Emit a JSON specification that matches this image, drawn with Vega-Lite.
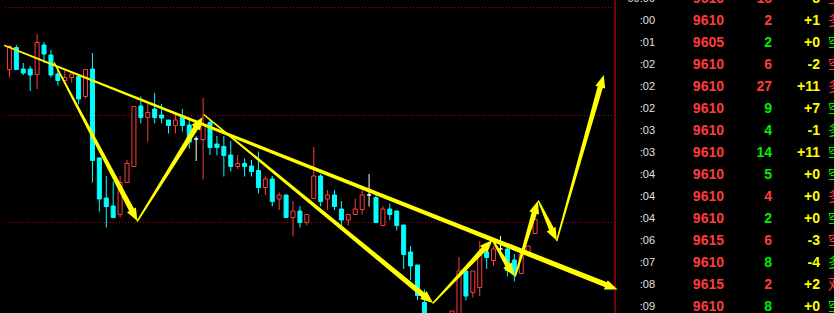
{
"$schema":"https://vega.github.io/schema/vega-lite/v6.json",
"width":834,"height":313,"padding":0,"autosize":{"type":"none"},
"background":"#000000",
"config":{"view":{"stroke":null}},
"datasets":{
"candles":[
{"i":0,"o":9630.6,"h":9635.5,"l":9629.0,"c":9635.2},
{"i":1,"o":9635.0,"h":9635.5,"l":9630.6,"c":9630.6},
{"i":2,"o":9630.7,"h":9631.9,"l":9629.5,"c":9629.9},
{"i":3,"o":9630.7,"h":9631.3,"l":9626.3,"c":9629.5},
{"i":4,"o":9629.6,"h":9637.7,"l":9626.7,"c":9636.0},
{"i":5,"o":9635.5,"h":9636.1,"l":9631.9,"c":9633.7},
{"i":6,"o":9633.5,"h":9634.5,"l":9629.0,"c":9629.5},
{"i":7,"o":9629.7,"h":9630.7,"l":9627.4,"c":9628.4},
{"i":8,"o":9628.4,"h":9630.5,"l":9628.0,"c":9629.0},
{"i":9,"o":9629.0,"h":9629.7,"l":9628.0,"c":9629.7},
{"i":10,"o":9629.2,"h":9629.5,"l":9623.6,"c":9624.7},
{"i":11,"o":9625.2,"h":9630.6,"l":9624.8,"c":9630.6},
{"i":12,"o":9630.7,"h":9633.9,"l":9608.0,"c":9612.4},
{"i":13,"o":9612.9,"h":9613.1,"l":9602.2,"c":9604.7},
{"i":14,"o":9604.9,"h":9609.3,"l":9599.0,"c":9603.2},
{"i":15,"o":9603.3,"h":9608.2,"l":9601.0,"c":9601.0},
{"i":16,"o":9601.6,"h":9609.3,"l":9601.0,"c":9608.0},
{"i":17,"o":9608.0,"h":9612.5,"l":9608.0,"c":9611.8},
{"i":18,"o":9611.2,"h":9623.2,"l":9611.2,"c":9623.2},
{"i":19,"o":9623.3,"h":9625.2,"l":9619.8,"c":9621.0},
{"i":20,"o":9621.0,"h":9623.7,"l":9616.2,"c":9622.0},
{"i":21,"o":9622.7,"h":9625.9,"l":9619.8,"c":9621.0},
{"i":22,"o":9621.5,"h":9623.7,"l":9619.8,"c":9620.9},
{"i":23,"o":9620.5,"h":9620.5,"l":9617.8,"c":9619.4},
{"i":24,"o":9619.4,"h":9621.9,"l":9617.8,"c":9620.5},
{"i":25,"o":9621.3,"h":9622.7,"l":9618.2,"c":9619.4},
{"i":26,"o":9619.5,"h":9621.0,"l":9614.8,"c":9616.1},
{"i":27,"o":9616.7,"h":9617.2,"l":9612.3,"c":9616.7},
{"i":28,"o":9616.6,"h":9624.9,"l":9608.6,"c":9619.5},
{"i":29,"o":9620.0,"h":9620.6,"l":9613.5,"c":9615.0},
{"i":30,"o":9615.7,"h":9617.3,"l":9613.4,"c":9615.0},
{"i":31,"o":9615.2,"h":9617.3,"l":9609.2,"c":9613.4},
{"i":32,"o":9613.5,"h":9616.3,"l":9610.2,"c":9611.2},
{"i":33,"o":9611.2,"h":9613.5,"l":9610.7,"c":9611.8},
{"i":34,"o":9611.8,"h":9612.8,"l":9609.2,"c":9611.2},
{"i":35,"o":9611.3,"h":9612.5,"l":9609.2,"c":9610.2},
{"i":36,"o":9610.4,"h":9614.2,"l":9605.8,"c":9607.0},
{"i":37,"o":9607.0,"h":9609.2,"l":9605.5,"c":9608.7},
{"i":38,"o":9608.7,"h":9609.3,"l":9603.2,"c":9604.2},
{"i":39,"o":9604.7,"h":9606.0,"l":9602.5,"c":9605.5},
{"i":40,"o":9605.5,"h":9605.5,"l":9601.0,"c":9601.0},
{"i":41,"o":9601.0,"h":9604.3,"l":9597.2,"c":9602.3},
{"i":42,"o":9602.3,"h":9603.3,"l":9599.0,"c":9600.0},
{"i":43,"o":9600.0,"h":9601.6,"l":9599.4,"c":9601.6},
{"i":44,"o":9604.8,"h":9615.1,"l":9604.8,"c":9609.3},
{"i":45,"o":9609.3,"h":9609.7,"l":9603.2,"c":9604.2},
{"i":46,"o":9604.7,"h":9606.5,"l":9602.5,"c":9605.5},
{"i":47,"o":9605.5,"h":9606.5,"l":9602.5,"c":9603.2},
{"i":48,"o":9602.7,"h":9604.3,"l":9599.3,"c":9600.5},
{"i":49,"o":9600.5,"h":9601.6,"l":9599.4,"c":9601.6},
{"i":50,"o":9601.6,"h":9604.8,"l":9601.6,"c":9602.7},
{"i":51,"o":9602.6,"h":9606.5,"l":9601.6,"c":9605.5},
{"i":52,"o":9605.5,"h":9609.7,"l":9603.2,"c":9605.5},
{"i":53,"o":9605.0,"h":9605.5,"l":9600.0,"c":9600.0},
{"i":54,"o":9599.4,"h":9603.3,"l":9599.4,"c":9602.7},
{"i":55,"o":9602.7,"h":9603.8,"l":9600.5,"c":9601.6},
{"i":56,"o":9602.3,"h":9602.3,"l":9598.4,"c":9599.4},
{"i":57,"o":9599.5,"h":9599.5,"l":9590.7,"c":9593.6},
{"i":58,"o":9594.1,"h":9595.3,"l":9588.5,"c":9591.3},
{"i":59,"o":9591.5,"h":9591.5,"l":9584.5,"c":9585.4},
{"i":60,"o":9584.0,"h":9586.6,"l":9578.0,"c":9580.0},
{"i":61,"o":9580.0,"h":9581.0,"l":9576.0,"c":9578.0},
{"i":62,"o":9575.0,"h":9580.0,"l":9574.0,"c":9578.0},
{"i":63,"o":9577.0,"h":9581.0,"l":9576.0,"c":9580.0},
{"i":64,"o":9580.0,"h":9582.3,"l":9579.0,"c":9582.3},
{"i":65,"o":9580.0,"h":9593.1,"l":9579.0,"c":9590.3},
{"i":66,"o":9590.3,"h":9590.3,"l":9584.4,"c":9585.3},
{"i":67,"o":9586.0,"h":9590.3,"l":9585.0,"c":9590.3},
{"i":68,"o":9587.0,"h":9596.3,"l":9585.3,"c":9594.1},
{"i":69,"o":9594.1,"h":9595.2,"l":9590.7,"c":9593.0},
{"i":70,"o":9592.4,"h":9595.3,"l":9591.3,"c":9594.7},
{"i":71,"o":9594.7,"h":9597.3,"l":9593.6,"c":9594.7},
{"i":72,"o":9594.7,"h":9595.3,"l":9589.2,"c":9590.4},
{"i":73,"o":9592.5,"h":9593.7,"l":9588.2,"c":9589.7},
{"i":74,"o":9589.8,"h":9593.7,"l":9589.8,"c":9593.7},
{"i":75,"o":9593.7,"h":9595.3,"l":9593.2,"c":9595.3},
{"i":76,"o":9597.8,"h":9601.7,"l":9597.8,"c":9600.6}
],
"arrows":[
{"seg":"A","t":0,"i":-0.7,"p":9635.4},{"seg":"A","t":1,"i":86.73,"p":9587.3},
{"seg":"B","t":0,"i":6.5,"p":9631.9},{"seg":"B","t":1,"i":17.9,"p":9601.9},
{"seg":"C","t":0,"i":18.5,"p":9600.3},{"seg":"C","t":1,"i":27.24,"p":9619.6},
{"seg":"D","t":0,"i":28.17,"p":9621.5},{"seg":"D","t":1,"i":60.26,"p":9585.0},
{"seg":"E","t":0,"i":61.26,"p":9583.9},{"seg":"E","t":1,"i":68.94,"p":9595.2},
{"seg":"F","t":0,"i":69.83,"p":9596.5},{"seg":"F","t":1,"i":72.33,"p":9590.8},
{"seg":"G","t":0,"i":73.14,"p":9589.3},{"seg":"G","t":1,"i":76.03,"p":9602.6},
{"seg":"H","t":0,"i":76.5,"p":9604.3},{"seg":"H","t":1,"i":78.6,"p":9598.0},
{"seg":"I","t":0,"i":79.14,"p":9596.4},{"seg":"I","t":1,"i":85.57,"p":9627.8}
],
"heads":[
{"seg":"A","i":87.93,"p":9586.6},
{"seg":"B","i":18.5,"p":9600.3},
{"seg":"C","i":27.93,"p":9621.1},
{"seg":"D","i":61.26,"p":9583.9},
{"seg":"E","i":69.83,"p":9596.5},
{"seg":"F","i":73.0,"p":9589.3},
{"seg":"G","i":76.4,"p":9604.3},
{"seg":"H","i":79.14,"p":9596.4},
{"seg":"I","i":85.93,"p":9629.5}
],
"grid":[{"p":9643},{"p":9621.4},{"p":9600}],
"ticks":[
{"r":0,"t":"09:00","pr":"9610","v":"16","d":"-5","k":"空","s":"B"},
{"r":1,"t":":00","pr":"9610","v":"2","d":"+1","k":"多","s":"B"},
{"r":2,"t":":01","pr":"9605","v":"2","d":"+0","k":"空","s":"S"},
{"r":3,"t":":02","pr":"9610","v":"6","d":"-2","k":"空","s":"B"},
{"r":4,"t":":02","pr":"9610","v":"27","d":"+11","k":"多","s":"B"},
{"r":5,"t":":02","pr":"9610","v":"9","d":"+7","k":"空","s":"S"},
{"r":6,"t":":03","pr":"9610","v":"4","d":"-1","k":"多","s":"S"},
{"r":7,"t":":03","pr":"9610","v":"14","d":"+11","k":"空","s":"S"},
{"r":8,"t":":04","pr":"9610","v":"5","d":"+0","k":"空","s":"S"},
{"r":9,"t":":04","pr":"9610","v":"4","d":"+0","k":"多","s":"B"},
{"r":10,"t":":04","pr":"9610","v":"2","d":"+0","k":"空","s":"S"},
{"r":11,"t":":06","pr":"9615","v":"6","d":"-3","k":"空","s":"B"},
{"r":12,"t":":07","pr":"9610","v":"8","d":"-4","k":"多","s":"S"},
{"r":13,"t":":08","pr":"9615","v":"2","d":"+2","k":"双","s":"B"},
{"r":14,"t":":09","pr":"9610","v":"8","d":"+0","k":"空","s":"S"}
]
},
"resolve":{"scale":{"x":"independent","y":"independent","color":"independent","size":"independent"}},
"layer":[
{"layer":[
{"data":{"name":"grid"},"mark":{"type":"rule","color":"#b00000","strokeDash":[1,2],"strokeWidth":1},
 "encoding":{"y":{"field":"p","type":"quantitative","scale":{"domain":[9581.9,9644.5],"nice":false,"zero":false},"axis":null},
 "x":{"datum":-0.643,"type":"quantitative","scale":{"domain":[-0.642857,118.5],"nice":false,"zero":false},"axis":null},"x2":{"datum":87.57}}},
{"data":{"values":[{}]},"mark":{"type":"rule","color":"#e00000","strokeWidth":1},
 "encoding":{"x":{"datum":87.57,"type":"quantitative","scale":{"domain":[-0.642857,118.5],"nice":false,"zero":false},"axis":null}}},
{"data":{"name":"candles"},"mark":{"type":"rule","strokeWidth":1,"clip":true},
 "encoding":{"x":{"field":"i","type":"quantitative","scale":{"domain":[-0.642857,118.5],"nice":false,"zero":false},"axis":null},
 "y":{"field":"l","type":"quantitative","scale":{"domain":[9581.9,9644.5],"nice":false,"zero":false},"axis":null},"y2":{"field":"h"},
 "color":{"condition":[{"test":"datum.c < datum.o","value":"#00ffff"},{"test":"datum.c == datum.o","value":"#ffffff"}],"value":"#ff3c3c"}}},
{"data":{"name":"candles"},"mark":{"type":"bar","size":4,"strokeWidth":1,"clip":true},
 "encoding":{"x":{"field":"i","type":"quantitative","scale":{"domain":[-0.642857,118.5],"nice":false,"zero":false},"axis":null},
 "y":{"field":"o","type":"quantitative","scale":{"domain":[9581.9,9644.5],"nice":false,"zero":false},"axis":null},"y2":{"field":"c"},
 "fill":{"condition":[{"test":"datum.c < datum.o","value":"#00ffff"},{"test":"datum.c == datum.o","value":"#ffffff"}],"value":"#000000"},
 "stroke":{"condition":[{"test":"datum.c < datum.o","value":"#00ffff"},{"test":"datum.c == datum.o","value":"#ffffff"}],"value":"#ff3c3c"}}},
{"data":{"name":"arrows"},"mark":{"type":"trail","color":"#ffff00","clip":true},
 "encoding":{"x":{"field":"i","type":"quantitative","scale":{"domain":[-0.642857,118.5],"nice":false,"zero":false},"axis":null},
 "y":{"field":"p","type":"quantitative","scale":{"domain":[9581.9,9644.5],"nice":false,"zero":false},"axis":null},
 "detail":{"field":"seg","type":"nominal"},"order":{"field":"t","type":"quantitative"},
 "size":{"field":"t","type":"quantitative","scale":{"domain":[0,1],"range":[1.5,5.5]},"legend":null}}},
{"data":{"name":"heads"},"transform":[{"filter":"datum.seg=='A'"}],"mark":{"type":"point","shape":"M0,0L0.8,2L-0.8,2Z","filled":true,"size":160,"angle":111.4,"color":"#ffff00","opacity":1},
 "encoding":{"x":{"field":"i","type":"quantitative","axis":null},"y":{"field":"p","type":"quantitative","axis":null}}},
{"data":{"name":"heads"},"transform":[{"filter":"datum.seg=='B'"}],"mark":{"type":"point","shape":"M0,0L0.8,2L-0.8,2Z","filled":true,"size":160,"angle":152,"color":"#ffff00","opacity":1},
 "encoding":{"x":{"field":"i","type":"quantitative","axis":null},"y":{"field":"p","type":"quantitative","axis":null}}},
{"data":{"name":"heads"},"transform":[{"filter":"datum.seg=='C'"}],"mark":{"type":"point","shape":"M0,0L0.8,2L-0.8,2Z","filled":true,"size":160,"angle":32.4,"color":"#ffff00","opacity":1},
 "encoding":{"x":{"field":"i","type":"quantitative","axis":null},"y":{"field":"p","type":"quantitative","axis":null}}},
{"data":{"name":"heads"},"transform":[{"filter":"datum.seg=='D'"}],"mark":{"type":"point","shape":"M0,0L0.8,2L-0.8,2Z","filled":true,"size":160,"angle":129.1,"color":"#ffff00","opacity":1},
 "encoding":{"x":{"field":"i","type":"quantitative","axis":null},"y":{"field":"p","type":"quantitative","axis":null}}},
{"data":{"name":"heads"},"transform":[{"filter":"datum.seg=='E'"}],"mark":{"type":"point","shape":"M0,0L0.8,2L-0.8,2Z","filled":true,"size":160,"angle":43.6,"color":"#ffff00","opacity":1},
 "encoding":{"x":{"field":"i","type":"quantitative","axis":null},"y":{"field":"p","type":"quantitative","axis":null}}},
{"data":{"name":"heads"},"transform":[{"filter":"datum.seg=='F'"}],"mark":{"type":"point","shape":"M0,0L0.8,2L-0.8,2Z","filled":true,"size":160,"angle":147.4,"color":"#ffff00","opacity":1},
 "encoding":{"x":{"field":"i","type":"quantitative","axis":null},"y":{"field":"p","type":"quantitative","axis":null}}},
{"data":{"name":"heads"},"transform":[{"filter":"datum.seg=='G'"}],"mark":{"type":"point","shape":"M0,0L0.8,2L-0.8,2Z","filled":true,"size":160,"angle":17,"color":"#ffff00","opacity":1},
 "encoding":{"x":{"field":"i","type":"quantitative","axis":null},"y":{"field":"p","type":"quantitative","axis":null}}},
{"data":{"name":"heads"},"transform":[{"filter":"datum.seg=='H'"}],"mark":{"type":"point","shape":"M0,0L0.8,2L-0.8,2Z","filled":true,"size":160,"angle":153.4,"color":"#ffff00","opacity":1},
 "encoding":{"x":{"field":"i","type":"quantitative","axis":null},"y":{"field":"p","type":"quantitative","axis":null}}},
{"data":{"name":"heads"},"transform":[{"filter":"datum.seg=='I'"}],"mark":{"type":"point","shape":"M0,0L0.8,2L-0.8,2Z","filled":true,"size":160,"angle":15.8,"color":"#ffff00","opacity":1},
 "encoding":{"x":{"field":"i","type":"quantitative","axis":null},"y":{"field":"p","type":"quantitative","axis":null}}}
]},
{"data":{"name":"ticks"},"layer":[
{"mark":{"type":"text","align":"right","baseline":"middle","dx":-21,"font":"Liberation Sans","fontSize":11,"color":"#e0e0e0"},
 "encoding":{"x":{"datum":0,"type":"quantitative","scale":{"domain":[0,4],"range":[676,868],"nice":false},"axis":null},
 "y":{"field":"r","type":"quantitative","scale":{"domain":[0,14],"range":[-0.8,307.2],"nice":false},"axis":null},"text":{"field":"t"}}},
{"mark":{"type":"text","align":"right","baseline":"middle","font":"Liberation Sans","fontWeight":"bold","fontSize":14,"color":"#ff3c3c"},
 "encoding":{"x":{"datum":1,"type":"quantitative","axis":null},"y":{"field":"r","type":"quantitative","axis":null},"text":{"field":"pr"}}},
{"mark":{"type":"text","align":"right","baseline":"middle","font":"Liberation Sans","fontWeight":"bold","fontSize":14},
 "encoding":{"x":{"datum":2,"type":"quantitative","axis":null},"y":{"field":"r","type":"quantitative","axis":null},"text":{"field":"v"},
 "color":{"field":"s","type":"nominal","scale":{"domain":["B","S"],"range":["#ff3c3c","#00ee00"]},"legend":null}}},
{"mark":{"type":"text","align":"right","baseline":"middle","font":"Liberation Sans","fontWeight":"bold","fontSize":14,"color":"#ffff00"},
 "encoding":{"x":{"datum":3,"type":"quantitative","axis":null},"y":{"field":"r","type":"quantitative","axis":null},"text":{"field":"d"}}},
{"mark":{"type":"text","align":"left","baseline":"middle","dx":-40,"font":"Noto Sans CJK SC","fontSize":14},
 "encoding":{"x":{"datum":4,"type":"quantitative","axis":null},"y":{"field":"r","type":"quantitative","axis":null},"text":{"field":"k"},
 "color":{"field":"s","type":"nominal","scale":{"domain":["B","S"],"range":["#ff3c3c","#00ee00"]},"legend":null}}}
]}
]
}
